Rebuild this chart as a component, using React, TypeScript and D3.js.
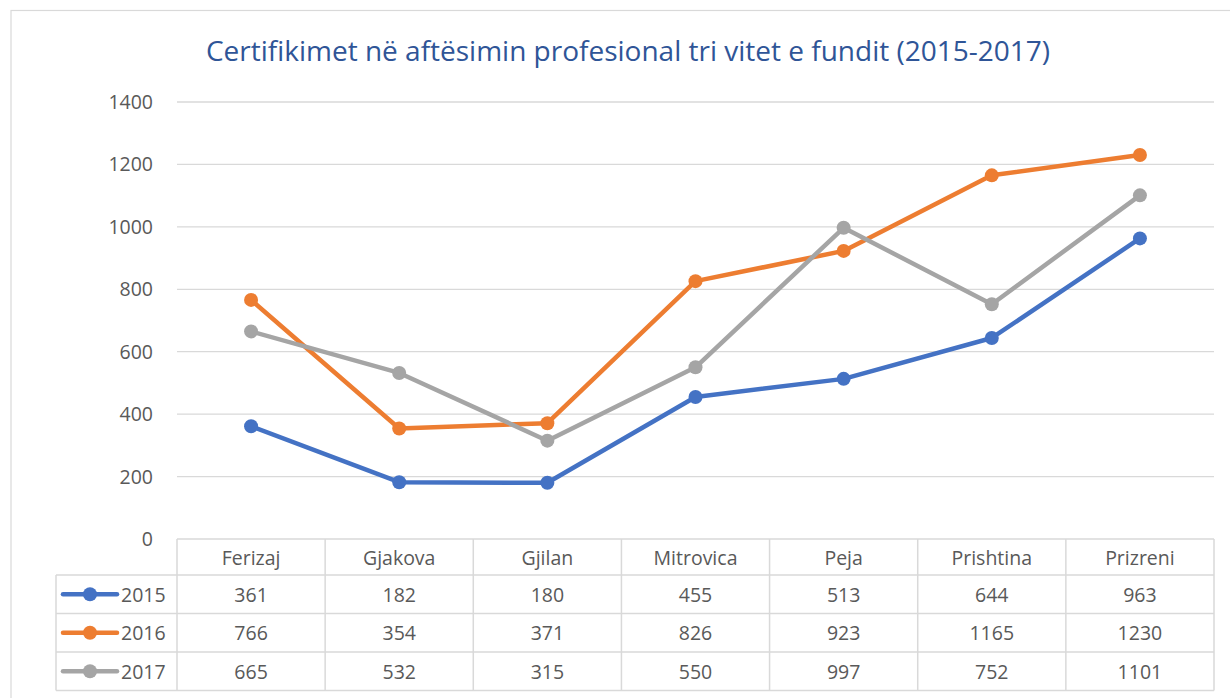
import * as d3 from "d3";
import { useEffect, useRef } from "react";

const categories = ["Ferizaj", "Gjakova", "Gjilan", "Mitrovica", "Peja", "Prishtina", "Prizreni"];
const series2015 = [361, 182, 180, 455, 513, 644, 963];
const series2016 = [766, 354, 371, 826, 923, 1165, 1230];
const series2017 = [665, 532, 315, 550, 997, 752, 1101];
const seriesNames = ["2015", "2016", "2017"];
const seriesColors = ["#4472C4", "#ED7D31", "#A5A5A5"];
const yTicks = [0, 200, 400, 600, 800, 1000, 1200, 1400];
const title = "Certifikimet në aftësimin profesional tri vitet e fundit (2015-2017)";

const App = () => {
  const ref = useRef<SVGSVGElement>(null);

  useEffect(() => {
    const svg = d3.select(ref.current);
    svg.selectAll("*").remove();

    const font = "Open Sans, sans-serif";
    const textColor = "#595959";
    const gridColor = "#D9D9D9";
    const fs = 19.5;
    const markerR = 7;

    const left = 177, right = 1214, top = 102, bottom = 539;
    const headerH = 36, rowH = 38.5;
    const legendLeft = 56;

    const data = [series2015, series2016, series2017];

    // chart frame
    svg.append("rect")
      .attr("x", 11).attr("y", 10.5)
      .attr("width", 1240).attr("height", 700)
      .attr("fill", "white").attr("stroke", gridColor).attr("stroke-width", 1.2);

    svg.append("text")
      .attr("x", 628).attr("y", 61)
      .attr("text-anchor", "middle")
      .attr("font-family", font).attr("font-size", 28)
      .attr("fill", "#2F5597")
      .text(title);

    const x = d3.scaleBand().domain(categories).range([left, right]);
    const y = d3.scaleLinear().domain([0, 1400]).range([bottom, top]);

    // gridlines
    svg.selectAll("line.grid")
      .data(yTicks.filter(t => t > 0))
      .join("line")
      .attr("class", "grid")
      .attr("x1", left).attr("x2", right)
      .attr("y1", d => y(d)).attr("y2", d => y(d))
      .attr("stroke", gridColor).attr("stroke-width", 1.3);

    svg.selectAll("text.ytick")
      .data(yTicks)
      .join("text")
      .attr("class", "ytick")
      .attr("x", 153).attr("y", d => y(d) + 7)
      .attr("text-anchor", "end")
      .attr("font-family", font).attr("font-size", fs)
      .attr("fill", textColor)
      .text(d => d);

    // data table grid
    const tbl = svg.append("g").attr("stroke", gridColor).attr("stroke-width", 1.5).attr("fill", "none");
    const tableBottom = bottom + headerH + rowH * 3;
    tbl.append("line").attr("x1", left).attr("x2", right).attr("y1", bottom).attr("y2", bottom);
    [0, 1, 2, 3].forEach(i => {
      const yy = bottom + headerH + rowH * i;
      tbl.append("line").attr("x1", legendLeft).attr("x2", right).attr("y1", yy).attr("y2", yy);
    });
    tbl.append("line").attr("x1", legendLeft).attr("x2", legendLeft)
      .attr("y1", bottom + headerH).attr("y2", tableBottom);
    categories.forEach(c => {
      const xx = x(c)!;
      tbl.append("line").attr("x1", xx).attr("x2", xx).attr("y1", bottom).attr("y2", tableBottom);
    });
    tbl.append("line").attr("x1", right).attr("x2", right).attr("y1", bottom).attr("y2", tableBottom);

    svg.selectAll("text.cat")
      .data(categories)
      .join("text")
      .attr("class", "cat")
      .attr("x", d => x(d)! + x.bandwidth() / 2)
      .attr("y", bottom + 26)
      .attr("text-anchor", "middle")
      .attr("font-family", font).attr("font-size", fs)
      .attr("fill", textColor)
      .text(d => d);

    data.forEach((vals, si) => {
      const rowMid = bottom + headerH + rowH * si + rowH / 2;
      // legend key
      svg.append("line")
        .attr("x1", 63).attr("x2", 117).attr("y1", rowMid).attr("y2", rowMid)
        .attr("stroke", seriesColors[si]).attr("stroke-width", 4.5).attr("stroke-linecap", "round");
      svg.append("circle").attr("cx", 90).attr("cy", rowMid).attr("r", markerR).attr("fill", seriesColors[si]);
      svg.append("text")
        .attr("x", 121).attr("y", rowMid + 7.5)
        .attr("font-family", font).attr("font-size", fs)
        .attr("fill", textColor)
        .text(seriesNames[si]);

      svg.selectAll(`text.val${si}`)
        .data(vals)
        .join("text")
        .attr("class", `val${si}`)
        .attr("x", (d, i) => x(categories[i])! + x.bandwidth() / 2)
        .attr("y", rowMid + 7.5)
        .attr("text-anchor", "middle")
        .attr("font-family", font).attr("font-size", fs)
        .attr("fill", textColor)
        .text(d => d);
    });

    // lines
    const line = d3.line<number>()
      .x((d, i) => x(categories[i])! + x.bandwidth() / 2)
      .y(d => y(d));

    data.forEach((vals, si) => {
      const g = svg.append("g");
      g.append("path")
        .attr("d", line(vals))
        .attr("fill", "none")
        .attr("stroke", seriesColors[si])
        .attr("stroke-width", 4.5)
        .attr("stroke-linejoin", "round")
        .attr("stroke-linecap", "round");
      g.selectAll("circle")
        .data(vals)
        .join("circle")
        .attr("cx", (d, i) => x(categories[i])! + x.bandwidth() / 2)
        .attr("cy", d => y(d))
        .attr("r", markerR)
        .attr("fill", seriesColors[si]);
    });
  }, []);

  return (
    <svg ref={ref} width={1230} height={698}
      style={{ position: "absolute", left: 0, top: 0 }} />
  );
};

export default App;
